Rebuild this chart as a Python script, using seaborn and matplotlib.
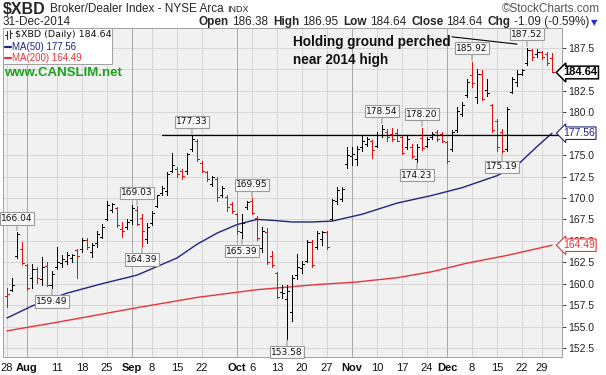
import numpy as np
import pandas as pd
import matplotlib
matplotlib.use('Agg')
import matplotlib.pyplot as plt
import matplotlib.transforms as mtransforms
import seaborn as sns

sns.set_style('white')
plt.rcParams['font.family'] = ['Liberation Sans', 'DejaVu Sans']

# trading days shown on the chart
holidays = ['2014-09-01', '2014-11-27', '2014-12-25']
dates = [d for d in pd.bdate_range('2014-07-28', '2014-12-31')
         if d.strftime('%Y-%m-%d') not in holidays]

# daily OHLC (Jul 28 .. Dec 31)
opens = [158.6, 159.3, 163.2, 164.1, 162.2, 160.7, 161.7, 160.5, 162.1, 159.9,
         161.9, 162.4, 162.7, 163.0, 163.9, 164.1, 165.1, 163.7, 164.7, 165.4,
         167.6, 168.6, 168.8, 166.4, 166.6, 167.4, 168.6, 167.7, 165.2, 167.1,
         169.1, 170.6, 170.8, 173.2, 173.4, 173.2, 173.2, 175.7, 176.7, 174.1,
         173.0, 171.6, 172.2, 170.3, 170.1, 169.3, 168.1, 166.0, 168.9, 169.6,
         167.7, 164.2, 166.0, 163.2, 161.3, 159.0, 158.2, 156.7, 161.0, 161.8,
         162.7, 164.9, 164.3, 165.2, 166.0, 167.6, 169.7, 169.9, 174.0, 174.9,
         174.5, 175.9, 176.3, 176.6, 176.1, 177.33, 177.7, 177.5, 177.6, 177.1,
         175.9, 176.0, 174.5, 177.0, 176.1, 177.1, 177.7, 177.5, 176.5, 175.7,
         177.9, 179.8, 182.0, 184.3, 181.8, 184.5, 182.6, 180.8, 179.0, 177.7,
         175.7, 182.4, 183.5, 184.5, 185.7, 187.3, 186.8, 187.0, 186.8, 186.38]
highs = [159.5, 160.7, 166.04, 164.85, 162.3, 162.3, 161.9, 163.1, 162.5, 161.5,
         164.3, 163.3, 163.7, 163.5, 164.1, 165.3, 165.3, 164.7, 166.2, 167.0,
         169.6, 169.4, 169.0, 167.2, 167.6, 169.2, 169.03, 168.1, 167.1, 168.5,
         170.4, 171.4, 173.0, 175.3, 173.6, 173.4, 175.3, 177.33, 176.9, 174.3,
         173.2, 172.6, 172.4, 171.4, 170.3, 169.5, 168.3, 168.1, 169.7, 169.95,
         167.9, 166.6, 166.5, 163.8, 161.4, 159.9, 159.8, 161.0, 163.5, 162.6,
         165.1, 165.1, 166.2, 166.2, 166.2, 169.9, 171.3, 171.3, 175.9, 175.9,
         176.1, 177.33, 177.1, 176.8, 177.7, 178.54, 178.1, 178.2, 178.0, 177.3,
         177.3, 176.3, 176.3, 178.20, 177.1, 177.7, 177.9, 177.7, 176.7, 177.9,
         180.6, 181.2, 183.9, 185.92, 185.1, 184.9, 183.9, 181.0, 179.2, 178.1,
         180.6, 184.1, 184.9, 185.1, 187.52, 187.35, 187.4, 187.2, 187.0, 186.95]
lows = [157.3, 159.1, 163.0, 162.3, 159.3, 159.5, 160.1, 159.9, 159.7, 159.49,
        161.7, 161.9, 162.3, 162.5, 160.7, 163.7, 164.1, 163.1, 164.3, 165.3,
        167.4, 168.4, 166.6, 165.4, 166.4, 167.0, 166.8, 164.39, 164.8, 166.9,
        168.9, 170.3, 170.4, 173.0, 172.4, 172.2, 172.8, 175.5, 174.3, 173.0,
        172.0, 171.4, 169.7, 170.1, 168.5, 168.3, 165.8, 165.39, 168.7, 168.1,
        165.1, 163.65, 162.3, 162.0, 158.3, 158.3, 153.58, 155.7, 160.6, 161.2,
        162.5, 162.0, 164.1, 164.5, 164.1, 167.4, 169.35, 169.6, 173.5, 173.85,
        173.85, 175.5, 176.1, 174.7, 175.9, 177.1, 176.7, 176.6, 176.6, 175.1,
        175.7, 174.7, 174.23, 175.6, 175.9, 176.9, 176.7, 176.5, 174.1, 175.5,
        177.7, 179.6, 181.8, 183.0, 181.1, 181.4, 181.9, 177.7, 175.5, 175.19,
        175.5, 182.2, 183.1, 184.3, 185.5, 186.1, 186.5, 186.2, 185.5, 184.64]
closes = [158.8, 159.9, 165.8, 162.4, 159.5, 161.7, 160.7, 161.9, 159.9, 161.1,
          162.5, 162.9, 163.3, 163.4, 163.2, 165.1, 164.3, 164.5, 165.8, 166.6,
          169.2, 169.3, 166.8, 166.2, 167.2, 168.8, 167.0, 166.2, 166.6, 168.3,
          170.3, 171.2, 172.8, 173.9, 172.8, 172.6, 175.1, 176.9, 174.5, 173.2,
          172.2, 172.4, 170.1, 171.2, 168.9, 168.5, 166.2, 167.1, 169.5, 168.3,
          165.3, 166.2, 162.5, 162.2, 158.4, 158.9, 159.2, 160.7, 162.0, 162.3,
          164.9, 162.2, 165.9, 166.0, 164.3, 169.8, 170.9, 171.1, 175.0, 175.1,
          175.7, 176.7, 176.9, 175.6, 177.33, 178.1, 177.1, 176.9, 176.7, 175.3,
          176.9, 174.9, 175.9, 175.8, 176.9, 177.5, 176.9, 176.7, 174.3, 177.7,
          180.2, 180.8, 183.5, 183.4, 184.5, 181.6, 182.2, 177.9, 175.9, 175.5,
          180.4, 183.9, 184.5, 184.9, 187.3, 186.5, 187.0, 186.4, 185.73, 184.64]
prior_close = 159.3

# moving averages read at a few dates
ma50_dates = ['2014-07-28', '2014-08-04', '2014-08-13', '2014-08-22', '2014-09-03',
              '2014-09-15', '2014-09-19', '2014-09-25', '2014-10-01', '2014-10-07',
              '2014-10-10', '2014-10-16', '2014-10-22', '2014-10-28', '2014-11-05',
              '2014-11-14', '2014-11-25', '2014-12-04', '2014-12-15', '2014-12-19',
              '2014-12-26', '2014-12-31']
ma50_vals = [156.0, 157.4, 158.9, 160.0, 161.0, 163.0, 164.6, 165.9, 166.9, 167.5,
             167.4, 167.2, 167.2, 167.3, 168.1, 169.4, 170.3, 171.2, 172.6, 173.8,
             176.0, 177.56]
ma200_dates = ['2014-07-28', '2014-08-11', '2014-09-03', '2014-09-19', '2014-10-07',
               '2014-10-23', '2014-11-04', '2014-11-14', '2014-11-25', '2014-12-05',
               '2014-12-17', '2014-12-31']
ma200_vals = [154.5, 155.5, 157.2, 158.4, 159.3, 159.9, 160.2, 160.7, 161.4, 162.4,
              163.3, 164.49]

# high / low call-outs
label_dates = ['2014-07-30', '2014-08-08', '2014-09-03', '2014-09-04', '2014-09-18',
               '2014-10-02', '2014-10-06', '2014-10-15', '2014-11-11', '2014-11-20',
               '2014-11-21', '2014-12-08', '2014-12-16', '2014-12-23']
label_vals = [166.04, 159.49, 169.03, 164.39, 177.33, 165.39, 169.95, 153.58,
              178.54, 174.23, 178.20, 185.92, 175.19, 187.52]
label_side = ['hi', 'lo', 'hi', 'lo', 'hi', 'lo', 'hi', 'lo',
              'hi', 'lo', 'hi', 'hi', 'lo', 'hi']

tick_dates = ['2014-07-28', '2014-08-01', '2014-08-11', '2014-08-18', '2014-08-25',
              '2014-09-02', '2014-09-08', '2014-09-15', '2014-09-22', '2014-10-01',
              '2014-10-06', '2014-10-13', '2014-10-20', '2014-10-27', '2014-11-03',
              '2014-11-10', '2014-11-17', '2014-11-24', '2014-12-01', '2014-12-08',
              '2014-12-15', '2014-12-22', '2014-12-29']
tick_labels = ['28', 'Aug', '11', '18', '25', 'Sep', '8', '15', '22', 'Oct', '6', '13',
               '20', '27', 'Nov', '10', '17', '24', 'Dec', '8', '15', '22', '29']
month_labels = ['Aug', 'Sep', 'Oct', 'Nov', 'Dec']

resistance_start = '2014-09-10'
resistance_value = 177.33
trend_dates = ['2014-12-02', '2014-12-19']
trend_vals = [188.8, 187.95]

RED = '#DD1111'
NAVY = '#23237E'
MA_RED = '#E8343A'

pos = {d.strftime('%Y-%m-%d'): i for i, d in enumerate(dates)}
def ix(lst):
    return np.array([pos[d] for d in lst])

W, H = 606, 375
fig = plt.figure(figsize=(W / 100, H / 100), dpi=100)
def fx(px):
    return px / W
def fy(py):
    return 1 - py / H

ax = fig.add_axes([fx(3), fy(357), fx(562) - fx(3), fy(28) - fy(357)])
ax.set_facecolor('#F1F1F1')
ax.set_xlim(-0.8, 111.0)
ax.set_ylim(151.45, 189.83)

# grid
yt = np.arange(152.5, 188, 2.5)
for v in yt:
    ax.axhline(v, color='#D6D6D6', lw=0.7, zorder=0)
for d, lab in zip(tick_dates, tick_labels):
    c = '#A8A8A8' if lab in month_labels else '#D6D6D6'
    ax.axvline(pos[d], color=c, lw=0.7, zorder=0)

# OHLC bars
o = np.array(opens); h = np.array(highs); l = np.array(lows); c = np.array(closes)
x = np.arange(len(c))
prev = np.r_[prior_close, c[:-1]]
cols = np.where(c < prev, RED, 'black')
bar_kw = dict(colors=cols, lw=0.72, zorder=3, antialiased=False)
ax.vlines(x, l, h, **bar_kw)
ax.hlines(o, x - 0.45, x, **bar_kw)
ax.hlines(c, x, x + 0.45, **bar_kw)

# moving averages
sns.lineplot(x=ix(ma50_dates), y=ma50_vals, ax=ax, color=NAVY, lw=1.0, zorder=2)
sns.lineplot(x=ix(ma200_dates), y=ma200_vals, ax=ax, color=MA_RED, lw=1.0, zorder=2)

# annotations drawn on the chart
ax.plot([pos[resistance_start], 111.0], [resistance_value] * 2, color='black', lw=0.9, zorder=4)
ax.plot(ix(trend_dates), trend_vals, color='black', lw=0.8, zorder=4)

for d, v, s in zip(label_dates, label_vals, label_side):
    off = 9 if s == 'hi' else -9
    ax.annotate(f'{v:.2f}', xy=(pos[d], v), xytext=(0, off), textcoords='offset pixels',
                ha='center', va='bottom' if s == 'hi' else 'top',
                fontsize=6.5, family='DejaVu Sans', color='#111111', zorder=6,
                bbox=dict(boxstyle='square,pad=0.18', fc='#F8F8F8', ec='#9A9A9A', lw=0.8),
                arrowprops=dict(arrowstyle='-', color='#9A9A9A', lw=0.8, shrinkA=0, shrinkB=1))

# axes styling (185.0 and 177.5 sit under the value boxes)
ax.set_yticks(yt)
ax.set_yticklabels(['' if v in (185.0, 177.5) else f'{v:.1f}' for v in yt])
ax.yaxis.tick_right()
ax.tick_params(axis='y', direction='out', length=3, width=0.6, pad=1.5,
               labelsize=7.5, colors='#222222')
ax.set_xticks([pos[d] for d in tick_dates])
ax.set_xticklabels(tick_labels)
ax.tick_params(axis='x', length=0, pad=4, labelsize=8, colors='#111111')
for t in ax.get_xticklabels():
    if t.get_text() in month_labels:
        t.set_fontweight('bold')
for sp in ax.spines.values():
    sp.set_color('#A0A0A0')
    sp.set_linewidth(0.7)
ax.spines['bottom'].set_linestyle((0, (1, 1)))

# value boxes on the right axis
btrans = mtransforms.blended_transform_factory(ax.transAxes, ax.transData)
for v, col, wt in [(184.64, 'black', 'bold'), (177.56, NAVY, 'normal'), (164.49, MA_RED, 'normal')]:
    ax.text(1.0 + 1 / (562 - 3), v, f'{v:.2f}', transform=btrans, va='center', ha='left',
            fontsize=8 if wt == 'bold' else 7.5, color=col, fontweight=wt, zorder=10,
            clip_on=False,
            bbox=dict(boxstyle='larrow,pad=0.12', fc='white', ec=col,
                      lw=1.1 if wt == 'bold' else 0.8))

# legend box
LZ = 6
lg = plt.Rectangle((fx(3), fy(64)), fx(112) - fx(3), fy(28) - fy(64), transform=fig.transFigure,
                   fc='white', ec='#A0A0A0', lw=0.7, zorder=5)
fig.patches.append(lg)
for xs, ys in [([7, 7], [31, 39]), ([5, 7], [35, 35]), ([10, 10], [30, 38]), ([10, 12], [33, 33])]:
    fig.add_artist(plt.Line2D([fx(v) for v in xs], [fy(v) for v in ys], color='#333', lw=0.8,
                              zorder=LZ))
fig.text(fx(15), fy(34.5), '$XBD (Daily) 184.64', fontsize=6.8, family='DejaVu Sans',
         va='center', color='#111111', zorder=LZ)
fig.add_artist(plt.Line2D([fx(5), fx(11)], [fy(46.5), fy(46.5)], color=NAVY, lw=1.6, zorder=LZ))
fig.text(fx(12), fy(46.5), 'MA(50) 177.56', fontsize=7, va='center', color=NAVY, zorder=LZ)
fig.add_artist(plt.Line2D([fx(5), fx(11)], [fy(58), fy(58)], color=MA_RED, lw=1.6, zorder=LZ))
fig.text(fx(12), fy(58), 'MA(200) 164.49', fontsize=7, va='center', color=MA_RED, zorder=LZ)

fig.text(fx(4), fy(73.5), 'www.CANSLIM.net', fontsize=9.5, fontweight='bold',
         color='#1DA01D', va='center', zorder=LZ)
fig.text(fx(293), fy(51), 'Holding ground perched\nnear 2014 high', fontsize=9.8,
         fontweight='bold', color='#111111', va='center', ha='left', linespacing=1.3,
         zorder=LZ)

# header rows
def runs(x0, y0, parts, align='left'):
    rend = fig.canvas.get_renderer()
    objs = []
    for s, gap, kw in parts:
        t = fig.text(0, fy(y0), s, va='center', ha='left', **kw)
        objs.append((t, gap))
    widths = [t.get_window_extent(rend).width + g for t, g in objs]
    cur = x0 - sum(widths) if align == 'right' else x0
    for (t, g), w in zip(objs, widths):
        t.set_x(fx(cur))
        cur += w

runs(3, 9.5, [('$XBD', 4, dict(fontsize=11.5, fontweight='bold')),
              ('Broker/Dealer Index - NYSE Arca', 4, dict(fontsize=8.5)),
              ('INDX', 0, dict(fontsize=6.5))])
fig.text(fx(600), fy(9), '\u00a9StockCharts.com', fontsize=8.5, color='#555555',
         ha='right', va='center')
fig.text(fx(3), fy(22), '31-Dec-2014', fontsize=8.5, va='center')
B = dict(fontsize=8.5, fontweight='bold')
N = dict(fontsize=8.5)
runs(589, 22, [('Open', 3, B), ('186.38', 5, N), ('High', 3, B), ('186.95', 5, N),
               ('Low', 3, B), ('184.64', 5, N), ('Close', 3, B), ('184.64', 5, N),
               ('Chg', 3, B), ('-1.09 (-0.59%)', 0, N)], align='right')
fig.text(fx(591), fy(22.5), '\u25bc', fontsize=6, color='#2233CC', va='center', ha='left',
         family='DejaVu Sans')

fig.savefig('out.png', dpi=100)
